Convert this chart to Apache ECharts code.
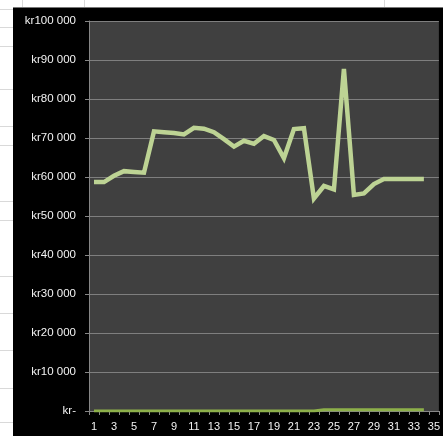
<!DOCTYPE html>
<html><head><meta charset="utf-8">
<script src="https://cdn.jsdelivr.net/npm/echarts@6/dist/echarts.min.js"></script>
<style>
html,body{margin:0;padding:0;background:#fff;width:443px;height:436px;overflow:hidden;position:relative}
#bg{position:absolute;left:13px;top:7px;right:0;bottom:0;background:#000;border-top:1px solid #777}
.hl{position:absolute;left:0;width:13px;height:1px;background:#d9d9d9}
.vl{position:absolute;top:0;height:7px;width:1px;background:#d9d9d9}
#c{position:absolute;left:0;top:0;width:443px;height:436px}
</style></head><body>
<div id="bg"></div>
<div class="hl" style="top:9px"></div><div class="hl" style="top:27px"></div><div class="hl" style="top:46px"></div>
<div class="hl" style="top:89px"></div><div class="hl" style="top:126px"></div><div class="hl" style="top:145px"></div>
<div class="hl" style="top:201px"></div><div class="hl" style="top:220px"></div><div class="hl" style="top:276px"></div>
<div class="hl" style="top:313px"></div><div class="hl" style="top:350px"></div><div class="hl" style="top:388px"></div>
<div class="hl" style="top:422px"></div>
<div class="vl" style="left:22px"></div><div class="vl" style="left:84px"></div><div class="vl" style="left:384px"></div>
<div id="c"></div>
<script>
const categories = Array.from({length:35}, (_, i) => String(i + 1));
const mainValues = [58700, 58700, 60300, 61500, 61300, 61100, 71700, 71500, 71300, 70900,
  72600, 72400, 71500, 69700, 67800, 69300, 68500, 70500, 69500, 64800,
  72300, 72500, 54500, 57700, 56800, 87700, 55400, 55800, 58200, 59500,
  59500, 59500, 59500, 59500];
const baseValues = [0,0,0,0,0,0,0,0,0,0,0,0,0,0,0,0,0,0,0,0,0,0,0,
  300,300,300,300,300,300,300,300,300,300,300];
const yMin = 0, yMax = 100000, yStep = 10000;

function fmt(v){
  if (v === 0) return 'kr-';
  return 'kr' + String(v).replace(/\B(?=(\d{3})+(?!\d))/g, ' ');
}
const chart = echarts.init(document.getElementById('c'));
chart.setOption({
  backgroundColor: 'transparent',
  animation: false,
  grid: {left: 89, top: 21, right: 4, bottom: 25, show: true, backgroundColor: '#404040', borderWidth: 0},
  xAxis: {
    type: 'category', data: categories, boundaryGap: true,
    axisLine: {show: true, lineStyle: {color: '#868686', width: 1}},
    axisTick: {show: true, interval: 0, length: 4, lineStyle: {color: '#868686'}},
    axisLabel: {interval: 1, color: '#f2f2f2', fontSize: 11, fontFamily: 'Liberation Sans', margin: 10}
  },
  yAxis: {
    type: 'value', min: yMin, max: yMax, interval: yStep,
    axisLine: {show: true, lineStyle: {color: '#868686', width: 1}},
    axisTick: {show: true, length: 4, lineStyle: {color: '#868686'}},
    splitLine: {show: true, lineStyle: {color: '#7f7f7f', width: 1}},
    axisLabel: {color: '#f2f2f2', fontSize: 11.5, fontFamily: 'Liberation Sans', margin: 13, formatter: fmt}
  },
  series: [
    {type: 'line', data: baseValues, symbol: 'none', lineStyle: {color: '#8db04a', width: 3}, z: 3},
    {type: 'line', data: mainValues, symbol: 'none', lineStyle: {color: '#bdd394', width: 4.5, join: 'miter'}, z: 4}
  ]
});
</script>
</body></html>
